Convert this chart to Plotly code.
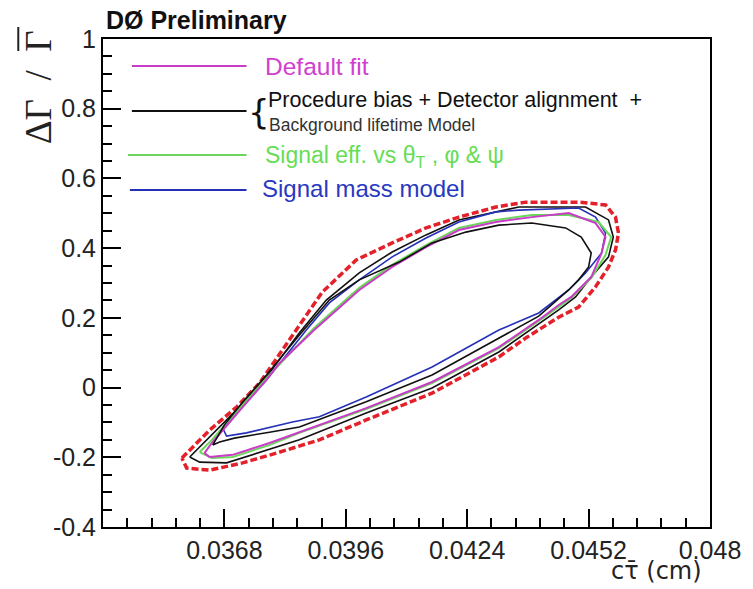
import plotly.graph_objects as go

# ---- data ----
red_x = [0.03582, 0.03646, 0.03708, 0.03761, 0.0383, 0.03906, 0.03984, 0.04067, 0.04145, 0.04221,
         0.04306, 0.04375, 0.04497, 0.04559, 0.04582, 0.04589, 0.04582, 0.04566, 0.04536, 0.04497,
         0.04451, 0.04375, 0.04313, 0.04159, 0.04007, 0.03899, 0.0380, 0.03722, 0.03646, 0.03593, 0.03582]
red_y = [-0.202, -0.122, -0.056, 0.013, 0.137, 0.274, 0.366, 0.415, 0.458, 0.489,
         0.518, 0.532, 0.532, 0.524, 0.489, 0.443, 0.395, 0.346, 0.289, 0.231,
         0.202, 0.142, 0.088, -0.016, -0.093, -0.150, -0.188, -0.216, -0.237, -0.231, -0.202]

blk_out_x = [0.0360, 0.03646, 0.03708, 0.03777, 0.03853, 0.03915, 0.03991, 0.04067, 0.04145, 0.04221,
             0.04306, 0.04359, 0.04513, 0.04566, 0.04577, 0.04566, 0.04526, 0.0449, 0.04451, 0.04313,
             0.04159, 0.04007, 0.03853, 0.03761, 0.03685, 0.03623, 0.0360]
blk_out_y = [-0.199, -0.142, -0.064, 0.030, 0.157, 0.251, 0.329, 0.389, 0.438, 0.481,
             0.504, 0.518, 0.518, 0.481, 0.432, 0.375, 0.317, 0.260, 0.223, 0.102,
             -0.001, -0.073, -0.150, -0.185, -0.216, -0.214, -0.199]

blue_x = [0.03676, 0.03726, 0.03777, 0.03869, 0.03922, 0.03991, 0.04067, 0.04145, 0.04221, 0.04306,
          0.04359, 0.04497, 0.04536, 0.04559, 0.0455, 0.04513, 0.04474, 0.04405, 0.04313, 0.04159,
          0.04007, 0.03899, 0.03837, 0.03731, 0.03685, 0.03676]
blue_y = [-0.116, -0.050, 0.022, 0.165, 0.243, 0.309, 0.375, 0.429, 0.475, 0.504,
          0.509, 0.515, 0.489, 0.443, 0.386, 0.329, 0.280, 0.214, 0.165, 0.059,
          -0.027, -0.084, -0.099, -0.130, -0.139, -0.116]

green_x = [0.03623, 0.03651, 0.03722, 0.03777, 0.03887, 0.03991, 0.04067, 0.04145, 0.04221, 0.04306,
           0.04389, 0.04474, 0.04543, 0.04572, 0.04559, 0.04526, 0.0448, 0.04405, 0.04313, 0.04159,
           0.04007, 0.03853, 0.03784, 0.03699, 0.03651, 0.03623]
green_y = [-0.185, -0.150, -0.050, 0.027, 0.171, 0.286, 0.352, 0.409, 0.458, 0.481,
           0.495, 0.495, 0.475, 0.432, 0.380, 0.314, 0.257, 0.191, 0.113, 0.013,
           -0.062, -0.130, -0.165, -0.199, -0.202, -0.185]

mag_x = [0.03634, 0.03651, 0.03722, 0.03777, 0.03807, 0.03887, 0.03991, 0.04067, 0.04145, 0.04221,
         0.04306, 0.04389, 0.04474, 0.04536, 0.04559, 0.0455, 0.04526, 0.0448, 0.04451, 0.04405,
         0.04313, 0.04159, 0.04007, 0.03853, 0.03784, 0.03699, 0.03646, 0.03634]
mag_y = [-0.188, -0.159, -0.056, 0.022, 0.070, 0.165, 0.280, 0.346, 0.403, 0.452,
         0.475, 0.489, 0.501, 0.472, 0.432, 0.386, 0.317, 0.260, 0.237, 0.194,
         0.116, 0.016, -0.059, -0.128, -0.159, -0.193, -0.199, -0.188]

blk_in_x = [0.03653, 0.0368, 0.03726, 0.03777, 0.03853, 0.03922, 0.03991, 0.04083, 0.04159, 0.04237,
            0.04313, 0.04389, 0.04467, 0.04503, 0.04526, 0.0452, 0.04497, 0.04474, 0.04405, 0.04313,
            0.04159, 0.04007, 0.03853, 0.03784, 0.03703, 0.03669, 0.03653]
blk_in_y = [-0.165, -0.107, -0.036, 0.036, 0.151, 0.251, 0.309, 0.360, 0.415, 0.446,
            0.466, 0.472, 0.458, 0.432, 0.386, 0.346, 0.309, 0.280, 0.205, 0.142,
            0.036, -0.041, -0.113, -0.128, -0.145, -0.156, -0.165]

x_ticks = [0.0368, 0.0396, 0.0424, 0.0452, 0.048]
x_tick_text = ["0.0368", "0.0396", "0.0424", "0.0452", "0.048"]
y_ticks = [-0.4, -0.2, 0, 0.2, 0.4, 0.6, 0.8, 1]
y_tick_text = ["-0.4", "-0.2", "0", "0.2", "0.4", "0.6", "0.8", "1"]

RED = "#e4202a"
MAG = "#c83cc8"
GREEN = "#6ad65a"
BLUE = "#2530b8"
BLACK = "#111111"

fig = go.Figure()
fig.add_trace(go.Scatter(x=red_x, y=red_y, mode="lines", line=dict(color=RED, width=3.5, dash="7px,3px")))
fig.add_trace(go.Scatter(x=blk_out_x, y=blk_out_y, mode="lines", line=dict(color=BLACK, width=1.6)))
fig.add_trace(go.Scatter(x=blue_x, y=blue_y, mode="lines", line=dict(color=BLUE, width=1.6)))
fig.add_trace(go.Scatter(x=green_x, y=green_y, mode="lines", line=dict(color=GREEN, width=2)))
fig.add_trace(go.Scatter(x=mag_x, y=mag_y, mode="lines", line=dict(color=MAG, width=2)))
fig.add_trace(go.Scatter(x=blk_in_x, y=blk_in_y, mode="lines", line=dict(color=BLACK, width=1.6)))

FONT = "Liberation Sans, Arial, sans-serif"

fig.update_layout(
    width=753, height=589,
    margin=dict(l=103, r=41, t=39, b=62),
    paper_bgcolor="white", plot_bgcolor="white",
    showlegend=False,
    font=dict(family=FONT, color="#222222"),
    xaxis=dict(range=[0.034, 0.048], tickvals=x_ticks, ticktext=x_tick_text,
               ticks="inside", ticklen=18, tickwidth=1.5, tickcolor="black",
               showline=True, linecolor="black", linewidth=2, mirror=True,
               showgrid=False, zeroline=False,
               tickfont=dict(size=25, family=FONT, color="#222222"),
               minor=dict(ticks="inside", ticklen=9, tickwidth=1.5, tickcolor="black",
                          tick0=0.034, dtick=0.00056, showgrid=False)),
    yaxis=dict(range=[-0.4, 1.0], tickvals=y_ticks, ticktext=y_tick_text,
               ticks="inside", ticklen=18, tickwidth=1.5, tickcolor="black",
               showline=True, linecolor="black", linewidth=2, mirror=True,
               showgrid=False, zeroline=False,
               tickfont=dict(size=25, family=FONT, color="#222222"),
               minor=dict(ticks="inside", ticklen=9, tickwidth=1.5, tickcolor="black",
                          tick0=-0.4, dtick=0.05, showgrid=False)),
)

def px2paper(px, py):
    return (px - 103) / 609.0, (527 - py) / 488.0

# legend lines
legend = [
    (MAG, 132, 247, 66),
    (BLACK, 132, 247, 111),
    (GREEN, 128, 247, 155),
    (BLUE, 130, 247, 190),
]
for col, x0, x1, yy in legend:
    a, b = px2paper(x0, yy)
    c, _ = px2paper(x1, yy)
    fig.add_shape(type="line", xref="paper", yref="paper", x0=a, x1=c, y0=b, y1=b,
                  line=dict(color=col, width=1.8))

def ann(text, px, py, size, color, xanchor="left", bold=False, family=FONT, angle=0):
    x, y = px2paper(px, py)
    fig.add_annotation(text=("<b>%s</b>" % text) if bold else text, x=x, y=y,
                       xref="paper", yref="paper", xanchor=xanchor, yanchor="middle",
                       showarrow=False, textangle=angle,
                       font=dict(size=size, color=color, family=family))

ann("Default fit", 264, 67, 24.5, "#d040d0")
ann("{", 246, 112, 34, BLACK, family="DejaVu Sans, sans-serif")
ann("Procedure bias + Detector alignment  +", 267, 100, 21.5, BLACK)
ann("Background lifetime Model", 268, 125, 17.5, "#333333")
ann("Signal eff. vs θ<sub>T</sub> , φ &amp; ψ", 264, 156, 23, "#66dd55")
ann("Signal mass model", 261, 188, 24, "#2838c0")
ann("DØ Preliminary", 104, 20, 25, "#111111", bold=True)
ann("cτ\u0304 (cm)", 706, 571, 24, "#222222", xanchor="right", family="DejaVu Sans, sans-serif")
ann("ΔΓ  /  Γ", 38, 87, 37, "#222222", xanchor="center",
    family="Liberation Serif, Times New Roman, serif", angle=-90)

# overline of the last Gamma in the y title
a, b = px2paper(18, 27)
c, d = px2paper(18, 51)
fig.add_shape(type="line", xref="paper", yref="paper", x0=a, x1=c, y0=b, y1=d,
              line=dict(color="#222222", width=2))

fig.write_html("out.html")
